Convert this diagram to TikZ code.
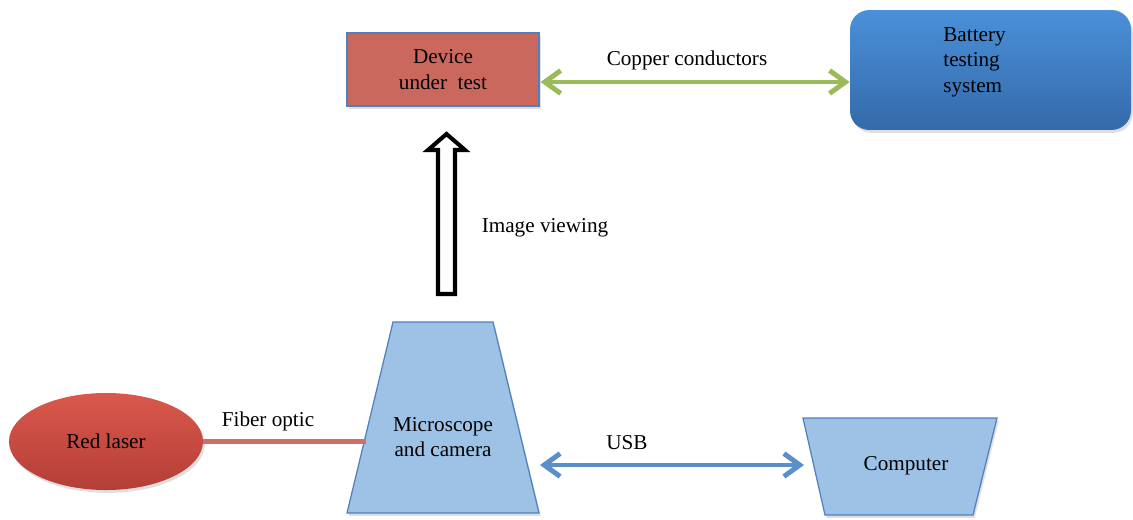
\documentclass[tikz,border=0pt]{standalone}
\usepackage{fontspec}
\setmainfont{Liberation Serif}
\usetikzlibrary{arrows.meta,shapes.geometric,shadows,calc}
\definecolor{dutred}{RGB}{203,104,94}
\definecolor{edgeblue}{RGB}{79,129,189}
\definecolor{battop}{RGB}{74,144,217}
\definecolor{batbot}{RGB}{52,106,170}
\definecolor{lasertop}{RGB}{218,88,76}
\definecolor{laserbot}{RGB}{180,62,55}
\definecolor{lightblue}{RGB}{157,194,230}
\definecolor{arrgreen}{RGB}{155,187,89}
\definecolor{usbblue}{RGB}{91,143,201}
\definecolor{fiberred}{RGB}{208,110,104}
\tikzset{
  lbl/.style={font=\fontsize{12}{14.5}\selectfont, align=center, inner sep=0pt},
  shade/.style={drop shadow={opacity=0.25, shadow xshift=1pt, shadow yshift=-1.6pt}},
  dutbox/.style={draw=edgeblue, line width=0.7pt, fill=dutred, minimum width=108.8pt, minimum height=41.4pt, shade, lbl},
  batbox/.style={rounded corners=11pt, top color=battop, bottom color=batbot, minimum width=159.3pt, minimum height=68pt, shade, lbl, align=left},
  laserbox/.style={ellipse, top color=lasertop, bottom color=laserbot, minimum width=110pt, minimum height=55pt, shade, lbl},
  trap/.style={draw=edgeblue, line width=0.7pt, fill=lightblue, shade},
  dblarrow/.style={line width=2.8pt, {Straight Barb[length=9pt,width=13pt]}-{Straight Barb[length=9pt,width=13pt]}, shade},
}
\begin{document}
\begin{tikzpicture}[x=0.5669pt,y=-0.5669pt]
\useasboundingbox (0,0) rectangle (1133,519);
% nodes
\node[dutbox] (dut) at (443,69.5) {Device\\under\enspace test};
\node[batbox] (bts) at (990.5,70) {};
\node[lbl, align=left, anchor=north west] (btstext) at (943,27) {Battery\\testing\\system};
\node[laserbox] (laser) at (106,441.5) {Red laser};
% microscope trapezoid
\coordinate (m1) at (393,322);
\coordinate (m2) at (493,322);
\coordinate (m3) at (539,513);
\coordinate (m4) at (347,513);
\draw[trap] (m1) -- (m2) -- (m3) -- (m4) -- cycle;
\node[lbl] (mic) at (443,437) {Microscope\\and camera};
% computer trapezoid
\coordinate (c1) at (803,418);
\coordinate (c2) at (997,418);
\coordinate (c3) at (973,515);
\coordinate (c4) at (825,515);
\draw[trap] (c1) -- (c2) -- (c3) -- (c4) -- cycle;
\node[lbl] (comp) at (906,466) {Computer};
% connector ends
\coordinate (micleft) at (366,441.5);
\coordinate (micright) at (540,465);
\coordinate (compleft) at (804,465);
% connectors
\draw[arrgreen, dblarrow] ($(dut.east)+(1,12.5)$) -- ($(bts.west)+(0,12)$);
\node[lbl] (cu) at (687,60) {Copper conductors};
\draw[fiberred, line width=2.8pt] (laser.east) -- (micleft);
\node[lbl] (fo) at (268,421) {Fiber optic};
\draw[usbblue, dblarrow] (micright) -- (compleft);
\node[lbl] (usb) at (627,443) {USB};
% hollow arrow
\coordinate (iv) at (446.5,294);
\draw[line width=2.3pt, fill=white, miter limit=10]
  ($(iv)+(-8.5,0)$) -- ($(iv)+(-8.5,-144)$) -- ($(iv)+(-18.5,-144)$) -- ($(iv)+(0,-160)$)
  -- ($(iv)+(18.5,-144)$) -- ($(iv)+(8.5,-144)$) -- ($(iv)+(8.5,0)$) -- cycle;
\node[lbl] (ivl) at (545,228) {Image viewing};
\end{tikzpicture}
\end{document}
